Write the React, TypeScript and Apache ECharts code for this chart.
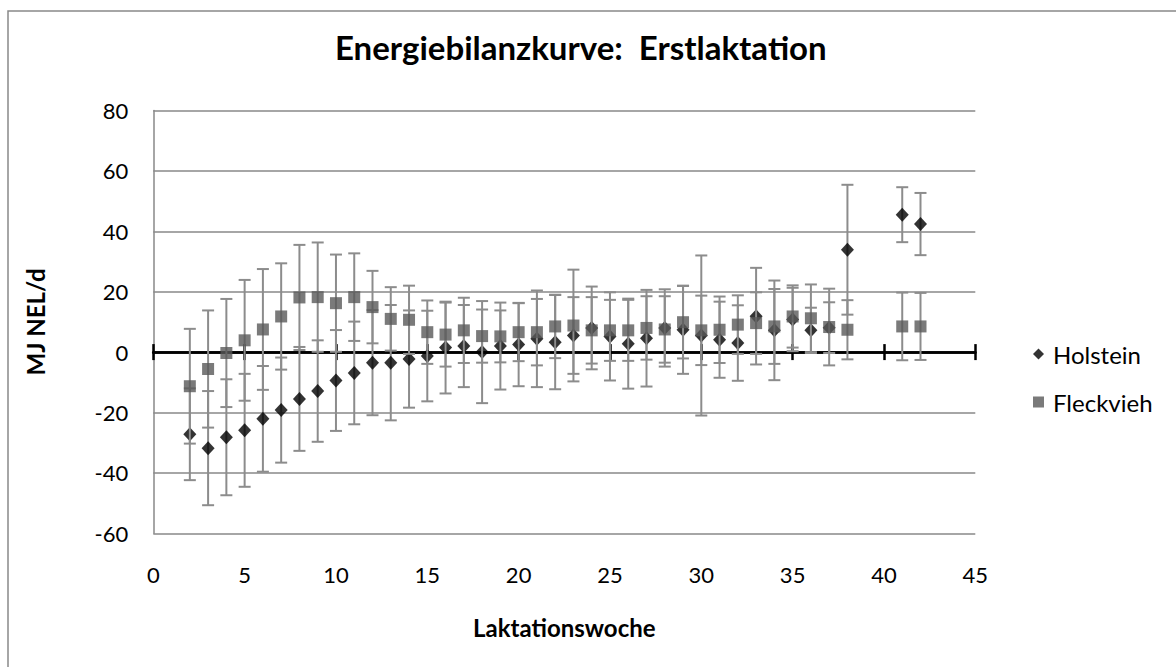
import React, { useEffect, useRef } from "react";
import * as echarts from "echarts";

const weeks = [2, 3, 4, 5, 6, 7, 8, 9, 10, 11, 12, 13, 14, 15, 16, 17, 18, 19, 20, 21, 22, 23, 24, 25, 26, 27, 28, 29, 30, 31, 32, 33, 34, 35, 36, 37, 38, 41, 42];

const holsteinMean = [-27.2, -31.8, -28.2, -25.9, -22.1, -19.2, -15.5, -12.9, -9.4, -6.9, -3.5, -3.5, -2.3, -1.3, 1.5, 2.0, 0.0, 2.0, 2.5, 4.4, 3.3, 5.5, 8.0, 5.2, 2.8, 4.6, 8.0, 7.4, 5.5, 4.1, 3.0, 11.9, 7.2, 10.8, 7.2, 8.1, 33.9, 45.5, 42.4];
const holsteinSd = [15.2, 18.9, 19.2, 18.7, 17.5, 17.4, 17.2, 16.8, 16.7, 17.0, 17.4, 19.1, 16.1, 15.0, 15.2, 13.6, 16.9, 14.4, 13.8, 16.0, 15.6, 12.7, 13.7, 14.6, 14.9, 16.0, 12.8, 14.6, 26.5, 12.6, 12.5, 16.0, 16.5, 10.5, 7.5, 8.4, 21.5, 9.1, 10.3];

const fleckviehMean = [-11.3, -5.6, -0.3, 3.9, 7.5, 11.8, 18.1, 18.2, 16.2, 18.2, 14.9, 11.0, 10.7, 6.6, 5.8, 7.2, 5.3, 5.2, 6.6, 6.6, 8.5, 8.8, 7.2, 7.2, 7.2, 8.0, 7.5, 9.9, 7.2, 7.4, 9.1, 9.6, 8.5, 11.8, 11.2, 8.3, 7.4, 8.5, 8.5];
const fleckviehSd = [19.0, 19.4, 17.9, 20.0, 20.0, 17.6, 17.4, 18.1, 16.1, 14.5, 12.0, 10.5, 11.3, 10.5, 10.6, 10.8, 8.8, 8.6, 9.6, 11.0, 10.5, 18.5, 11.0, 10.1, 10.1, 10.5, 11.0, 12.0, 11.5, 11.0, 9.7, 10.2, 12.4, 10.3, 11.2, 12.7, 9.8, 11.2, 11.1];

const yTicks = { min: -60, max: 80, interval: 20 };
const xTicks = { min: 0, max: 45, interval: 5 };

const FONT = "Lato";
const GRID_GRAY = "#898989";
const ERR_GRAY = "#8c8c8c";

function errData(mean: number[], sd: number[]) {
  return weeks.map((w, i) => [w, mean[i] - sd[i], mean[i] + sd[i]]);
}

function errRender(params: any, api: any) {
  const x = api.value(0);
  const lo = api.coord([x, api.value(1)]);
  const hi = api.coord([x, api.value(2)]);
  const hw = 6;
  const style = { stroke: ERR_GRAY, lineWidth: 2, fill: "none" };
  return {
    type: "group",
    children: [
      { type: "line", shape: { x1: lo[0], y1: lo[1], x2: hi[0], y2: hi[1] }, style },
      { type: "line", shape: { x1: hi[0] - hw, y1: hi[1], x2: hi[0] + hw, y2: hi[1] }, style },
      { type: "line", shape: { x1: lo[0] - hw, y1: lo[1], x2: lo[0] + hw, y2: lo[1] }, style },
    ],
  };
}

export default function App() {
  const ref = useRef<HTMLDivElement>(null);
  useEffect(() => {
    if (!ref.current) return;
    const chart = echarts.init(ref.current, undefined, { renderer: "svg" });
    const zeroAxisBase = {
      type: "value",
      min: xTicks.min,
      max: xTicks.max,
      interval: xTicks.interval,
      axisLine: { show: true, onZero: true, onZeroAxisIndex: 0, lineStyle: { color: "#000", width: 2.5 } },
      axisTick: { show: true, inside: false, length: 8, lineStyle: { color: "#000", width: 2.5 } },
      axisLabel: { show: false },
      splitLine: { show: false },
    };
    chart.setOption({
      animation: false,
      backgroundColor: "#fff",
      title: {
        text: "Energiebilanzkurve:  Erstlaktation",
        left: 335,
        top: 30,
        padding: 0,
        textStyle: { fontFamily: FONT, fontWeight: "bold", fontSize: 33, color: "#000" },
      },
      legend: {
        orient: "vertical",
        left: 1033,
        top: 342,
        padding: 0,
        itemWidth: 11,
        itemHeight: 11,
        itemGap: 24,
        selectedMode: false,
        textStyle: { fontFamily: FONT, fontSize: 24, color: "#000", padding: [0, 0, 0, 4] },
        data: [
          { name: "Holstein", icon: "diamond" },
          { name: "Fleckvieh", icon: "rect" },
        ],
      },
      grid: { left: 153.3, top: 110.5, right: 1176 - 975.3, bottom: 667 - 533.3, containLabel: false },
      xAxis: [
        {
          type: "value",
          position: "bottom",
          min: xTicks.min,
          max: xTicks.max,
          interval: xTicks.interval,
          axisLine: { show: false, onZero: false },
          axisTick: { show: false },
          splitLine: { show: false },
          axisLabel: { fontFamily: FONT, fontSize: 22, color: "#000", margin: 30 },
          name: "Laktationswoche",
          nameLocation: "middle",
          nameGap: 82,
          nameTextStyle: { fontFamily: FONT, fontWeight: "bold", fontSize: 24, color: "#000" },
        },
        { ...zeroAxisBase, position: "bottom" },
        { ...zeroAxisBase, position: "top" },
      ],
      yAxis: {
        type: "value",
        min: yTicks.min,
        max: yTicks.max,
        interval: yTicks.interval,
        axisLine: { show: true, onZero: false, lineStyle: { color: GRID_GRAY, width: 1.5 } },
        axisTick: { show: false },
        splitLine: { show: true, lineStyle: { color: GRID_GRAY, width: 1.5 } },
        axisLabel: { fontFamily: FONT, fontSize: 22, color: "#000", margin: 25 },
        name: "MJ NEL/d",
        nameLocation: "middle",
        nameRotate: 90,
        nameGap: 106,
        nameTextStyle: { fontFamily: FONT, fontWeight: "bold", fontSize: 24, color: "#000" },
      },
      graphic: [
        {
          type: "rect",
          shape: { x: 8, y: 11, width: 1400, height: 900 },
          style: { fill: "none", stroke: GRID_GRAY, lineWidth: 1.5 },
          silent: true,
        },
      ],
      series: [
        {
          type: "custom",
          name: "Holstein SD",
          xAxisIndex: 0,
          renderItem: errRender,
          encode: { x: 0, y: [1, 2] },
          data: errData(holsteinMean, holsteinSd),
          z: 2,
        },
        {
          type: "scatter",
          name: "Holstein",
          xAxisIndex: 0,
          symbol: "diamond",
          symbolSize: [13, 14],
          itemStyle: { color: "#000" },
          data: weeks.map((w, i) => [w, holsteinMean[i]]),
          z: 3,
        },
        {
          type: "custom",
          name: "Fleckvieh SD",
          xAxisIndex: 0,
          renderItem: errRender,
          encode: { x: 0, y: [1, 2] },
          data: errData(fleckviehMean, fleckviehSd),
          z: 4,
        },
        {
          type: "scatter",
          name: "Fleckvieh",
          xAxisIndex: 0,
          symbol: "rect",
          symbolSize: 12,
          itemStyle: { color: "#595959" },
          data: weeks.map((w, i) => [w, fleckviehMean[i]]),
          z: 5,
        },
      ],
    });
    return () => chart.dispose();
  }, []);
  return (
    <div
      ref={ref}
      style={{ position: "fixed", left: 0, top: 0, width: 1176, height: 667, background: "#fff" }}
    />
  );
}
